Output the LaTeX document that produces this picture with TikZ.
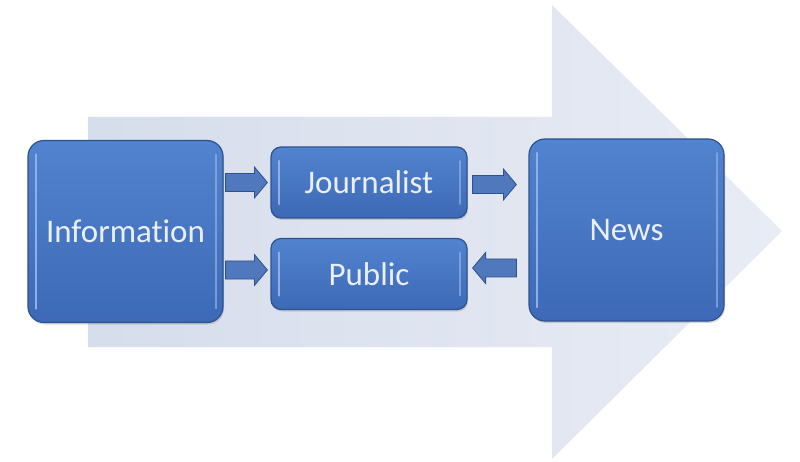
\documentclass[tikz,border=0pt]{standalone}
\usepackage{fontspec}
\setmainfont{Carlito}[Ligatures=NoCommon]
\usetikzlibrary{calc,shadows}
\definecolor{boxtop}{HTML}{5283CF}
\definecolor{boxbot}{HTML}{3D69B6}
\definecolor{boxborder}{HTML}{2E5290}
\definecolor{bgleft}{HTML}{D6DDEB}
\definecolor{bgright}{HTML}{E8ECF5}
\definecolor{txtc}{HTML}{EAF0FB}
\definecolor{hilite}{HTML}{8FB0E6}
\tikzset{
  boxbase/.style={draw=boxborder, line width=1.2pt, top color=boxtop, bottom color=boxbot,
    text=txtc, font=\fontsize{33}{38}\selectfont, inner sep=0pt,
    drop shadow={opacity=0.3, shadow xshift=1pt, shadow yshift=-2pt},
    path picture={
      \draw[hilite, line width=2.2pt, line cap=round]
        ([xshift=8pt,yshift=-14pt]path picture bounding box.north west) --
        ([xshift=8pt,yshift=14pt]path picture bounding box.south west);
      \draw[hilite, line width=1.6pt, line cap=round, opacity=0.7]
        ([xshift=-7pt,yshift=-14pt]path picture bounding box.north east) --
        ([xshift=-7pt,yshift=14pt]path picture bounding box.south east);
    }},
  bigbox/.style={boxbase, minimum width=195pt, minimum height=182pt, rounded corners=16pt},
  smallbox/.style={boxbase, minimum width=196pt, minimum height=71pt, rounded corners=10pt},
  blockarrow/.style={draw=boxborder, line width=0.8pt, fill=boxbot!90!white,
    to path={let \p1=(\tikztostart), \p2=(\tikztotarget),
      \n1={ifthenelse(\x2>\x1,1,-1)} in
      (\x1,{\y1+9pt}) -- ({\x2-\n1*13pt},{\y1+9pt}) -- ({\x2-\n1*13pt},{\y1+15.5pt})
      -- (\x2,\y1) -- ({\x2-\n1*13pt},{\y1-15.5pt}) -- ({\x2-\n1*13pt},{\y1-9pt})
      -- (\x1,{\y1-9pt}) -- cycle}}
}
\begin{document}
\begin{tikzpicture}[x=1pt,y=-1pt]
\useasboundingbox (0,0) rectangle (800,462);
\fill[white] (0,0) rectangle (800,462);
% background arrow
\shade[left color=bgleft, right color=bgright]
  (88,117) -- (552,117) -- (552,5) -- (782,231) -- (552,459) -- (552,347) -- (88,347) -- cycle;
% nodes
\node[bigbox] (info) at (125.5,231.5) {Information};
\node[bigbox] (news) at (626.5,230) {News};
\node[smallbox] (jour) at (369,182.5) {Journalist};
\node[smallbox] (pub) at (369,274) {Public};
% connectors
\draw[blockarrow] ([xshift=2pt]info.east |- jour.west) to ([xshift=-3pt]jour.west);
\draw[blockarrow] ([xshift=2pt,yshift=4pt]info.east |- pub.west) to ([xshift=-3pt,yshift=4pt]pub.west);
\draw[blockarrow] ([xshift=5pt,yshift=-2pt]jour.east) to ([xshift=-12pt,yshift=-2pt]news.west |- jour.east);
\draw[blockarrow] ([xshift=-12pt,yshift=6pt]news.west |- pub.east) to ([xshift=5pt,yshift=6pt]pub.east);
\end{tikzpicture}
\end{document}
